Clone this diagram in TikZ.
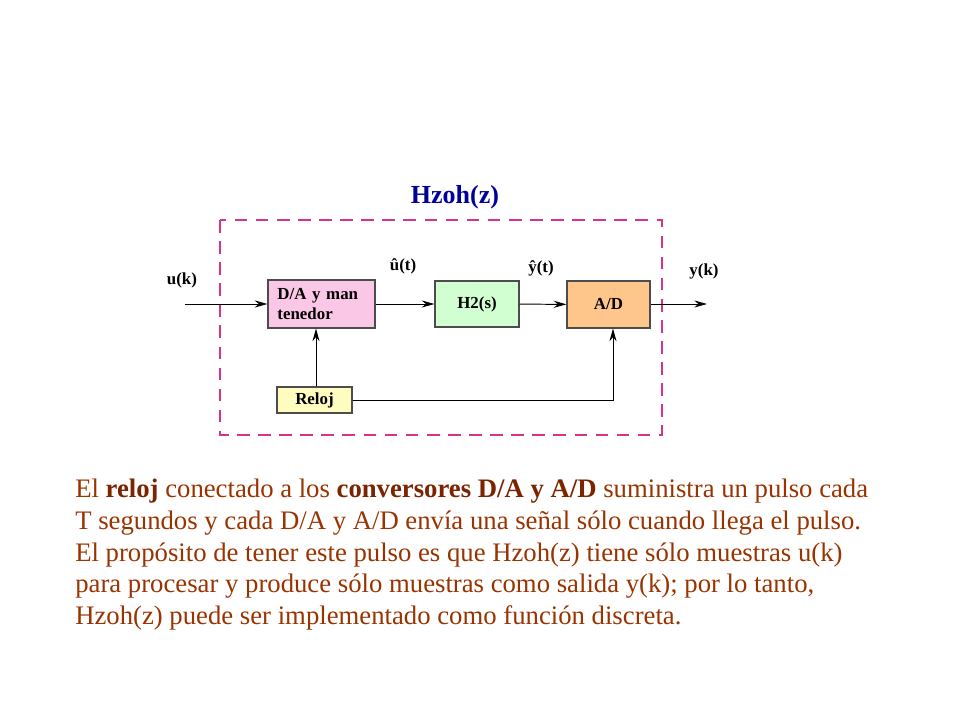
\documentclass[tikz,border=0pt]{standalone}
\usepackage{fontspec}
\setmainfont{Liberation Serif}
\usetikzlibrary{positioning,arrows.meta}
\definecolor{texto}{HTML}{993300}
\definecolor{negrita}{HTML}{7A2400}
\definecolor{azul}{HTML}{000099}
\definecolor{marco}{HTML}{D6338C}
\tikzset{
  bloque/.style={draw=black!70, line width=0.8pt, inner sep=0pt, font=\bfseries\fontsize{12}{14}\selectfont, align=left},
  senal/.style={font=\bfseries\fontsize{12}{14}\selectfont},
  flecha/.style={line width=0.7pt, -{Stealth[length=9pt,width=5pt]}}
}
\begin{document}
\begin{tikzpicture}[x=0.025cm,y=-0.025cm]
  \useasboundingbox (0,0) rectangle (960,720);
  % Marco discontinuo
  \draw[marco, line width=1pt, dash pattern=on 9pt off 6pt] (220,220) rectangle (662,435);
  \node[azul, font=\bfseries\fontsize{18.5}{20}\selectfont] (hzoh) at (455,197) {Hzoh(z)};

  % Bloques
  \node[bloque, fill=magenta!22, minimum width=2.675cm, minimum height=1.2cm, text width=2.2cm] (da) at (321.5,304) {D/A y man\\tenedor};
  \node[bloque, fill=green!18, minimum width=2.1cm, minimum height=1.15cm, align=center] (h2) at (477,304) {H2(s)};
  \node[bloque, fill=orange!45, minimum width=2.075cm, minimum height=1.175cm, align=center] (ad) at (608.5,304.5) {A/D};
  \node[bloque, fill=yellow!25, minimum width=1.875cm, minimum height=0.65cm, align=center] (reloj) at (314.5,400) {Reloj};

  % Senales
  \coordinate (entrada) at (185,304);
  \coordinate (salida) at (707,304);
  \node[senal] (uk) at (182,280) {u(k)};
  \node[senal] (ut) at (403,266) {\^u(t)};
  \node[senal] (yt) at (541,268) {\^y(t)};
  \node[senal] (yk) at (704,271) {y(k)};

  % Conexiones
  \draw[flecha] (entrada) -- (da.west |- entrada);
  \draw[flecha] (da) -- (h2);
  \draw[flecha] (h2) -- (ad);
  \draw[flecha] (ad.east |- salida) -- (salida);
  \draw[flecha] (reloj.north -| 316,0) -- (da.south -| 316,0);
  \draw[flecha] (reloj.east) -- (613,400) -- (ad.south -| 613,0);

  % Texto explicativo
  \node[texto, anchor=north west, inner sep=0pt, align=left, font=\fontsize{19}{22.5}\selectfont] (parrafo) at (75,479) {El \textcolor{negrita}{\textbf{reloj}} conectado a los \textcolor{negrita}{\textbf{conversores D/A y A/D}} suministra un pulso cada\\
T segundos y cada D/A y A/D envía una señal sólo cuando llega el pulso.\\
El propósito de tener este pulso es que Hzoh(z) tiene sólo muestras u(k)\\
para procesar y produce sólo muestras como salida y(k); por lo tanto,\\
Hzoh(z) puede ser implementado como función discreta.};
\end{tikzpicture}
\end{document}
